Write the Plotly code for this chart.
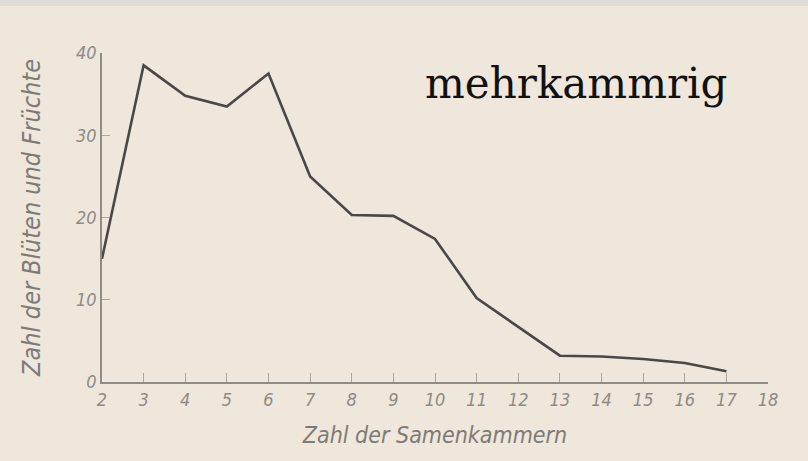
import plotly.graph_objects as go

chambers = [2, 3, 4, 5, 6, 7, 8, 9, 10, 11, 12, 13, 14, 15, 16, 17]
counts = [15, 38.5, 34.8, 33.5, 37.5, 25, 20.3, 20.2, 17.4, 10.2, 6.7, 3.2, 3.1, 2.8, 2.3, 1.3]
x_ticks = [2, 3, 4, 5, 6, 7, 8, 9, 10, 11, 12, 13, 14, 15, 16, 17, 18]
y_ticks = [0, 10, 20, 30, 40]

bg = "#efe6dc"
axis_col = "#8f8b85"
font_fam = "Liberation Sans Narrow, DejaVu Sans Condensed, DejaVu Sans"

fig = go.Figure()
fig.add_trace(go.Scatter(x=chambers, y=counts, mode="lines",
                         line=dict(color="#4a4845", width=2.6), showlegend=False))

W, H = 808, 461
ml, mr, mt, mb = 102, 40, 53, 79
ph = H - mt - mb
pw = W - ml - mr

fig.update_layout(
    width=W, height=H,
    margin=dict(l=ml, r=mr, t=mt, b=mb),
    paper_bgcolor=bg, plot_bgcolor=bg,
    xaxis=dict(range=[2, 18], tickvals=x_ticks, ticktext=[str(v) for v in x_ticks],
               showgrid=False, zeroline=False, showline=True, linecolor=axis_col, linewidth=2.2,
               ticks="inside", ticklen=9, tickwidth=1, tickcolor="#a8a49e",
               tickfont=dict(family=font_fam, size=18, color="#8e8b84", style="italic"),
               title=dict(text="Zahl der Samenkammern", standoff=18,
                          font=dict(family=font_fam, size=23, color="#7e7b75", style="italic"))),
    yaxis=dict(range=[0, 40], tickvals=y_ticks, ticktext=[str(v) for v in y_ticks],
               showgrid=False, zeroline=False, showline=True, linecolor=axis_col, linewidth=1.6,
               ticks="inside", ticklen=8, tickwidth=1, tickcolor="#a8a49e",
               tickfont=dict(family=font_fam, size=18, color="#8e8b84", style="italic"),
               title=dict(text="Zahl der Blüten und Früchte", standoff=28,
                          font=dict(family=font_fam, size=25, color="#7e7b75", style="italic"))),
    font=dict(family=font_fam),
)

# thin grey strip at the very top of the image
fig.add_shape(type="rect", xref="paper", yref="paper", x0=-ml / pw, x1=1 + mr / pw,
              y0=(H - mb - 6) / ph, y1=(H - mb) / ph + 0.01,
              fillcolor="#dddcd9", line=dict(width=0), layer="above")

fig.add_annotation(text="mehrkammrig", xref="paper", yref="paper",
                   x=(423 - ml) / pw, y=(H - mb - 98) / ph,
                   xanchor="left", yanchor="bottom", showarrow=False, yshift=-12,
                   font=dict(family="DejaVu Serif", size=42, color="#111111"))

fig.write_html("out.html", config={"displayModeBar": False},
               post_script="document.body.style.margin='0';document.body.style.background='#efe6dc';")
